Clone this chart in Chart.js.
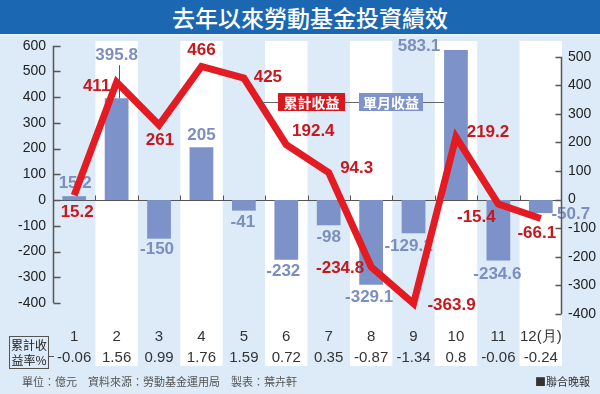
<!DOCTYPE html>
<html>
<head>
<meta charset="utf-8">
<script src="https://cdn.jsdelivr.net/npm/chart.js@4"></script>
<style>
  body { margin: 0; background: #fff; }
  #wrap { position: relative; width: 600px; height: 394px; overflow: hidden; font-family: "Noto Sans CJK TC", "Noto Sans", sans-serif; }
  #chart { position: absolute; left: 0; top: 0; }
  .title { position: absolute; left: 0; top: 0; width: 600px; height: 34px; background: #1b67b2; border-bottom: 2px solid #e8f2fb; }
  .title span { position: absolute; left: 172px; top: 2px; font-size: 23px; line-height: 30px; color: #fff; font-weight: 500; white-space: nowrap; }
  .legend { position: absolute; top: 93px; height: 18px; line-height: 18px; font-size: 14px; font-weight: 700; color: #fff; text-align: center; }
  .rateBox { position: absolute; left: 9px; top: 336px; width: 38px; height: 31px; border: 1px solid #555; font-size: 12px; line-height: 15px; color: #222; text-align: center; white-space: nowrap; }
  .rateLink { position: absolute; left: 48px; top: 356px; width: 6px; height: 1px; background: #555; }
  .foot { position: absolute; top: 374px; font-size: 11px; line-height: 14px; color: #555; white-space: nowrap; }
</style>
</head>
<body>
<div id="wrap">
  <canvas id="chart" width="600" height="394"></canvas>
  <div class="title"><span>去年以來勞動基金投資績效</span></div>
  <div class="legend" style="left:278px;width:67px;background:#d7191f;">累計收益</div>
  <div class="legend" style="left:359px;width:64px;background:#7d93c9;">單月收益</div>
  <div class="rateBox">累計收<br>益率%</div>
  <div class="rateLink"></div>
  <div class="foot" style="left:22px;">單位：億元　資料來源：勞動基金運用局　製表：葉卉軒</div>
  <div class="foot" style="right:10px;color:#333;">■聯合晚報</div>
</div>
<script>
// months on the x axis
const months = ['1', '2', '3', '4', '5', '6', '7', '8', '9', '10', '11', '12(月)'];
// 累計收益 (億元), right axis
const cumProfit = [15.2, 411, 261, 466, 425, 192.4, 94.3, -234.8, -363.9, 219.2, -15.4, -66.1];
// 單月收益 (億元), left axis
const monthProfit = [15.2, 395.8, -150, 205, -41, -232, -98, -329.1, -129.1, 583.1, -234.6, -50.7];
// 累計收益率%
const cumRate = ['-0.06', '1.56', '0.99', '1.76', '1.59', '0.72', '0.35', '-0.87', '-1.34', '0.8', '-0.06', '-0.24'];
// axis ticks
const leftTicks = [-400, -300, -200, -100, 0, 100, 200, 300, 400, 500, 600];
const rightTicks = [-400, -300, -200, -100, 0, 100, 200, 300, 400, 500];

// label offsets from their mark (px)
const cumLabelOffset = [[3, 17], [-20, 4], [1, 15], [0, -16], [24, -1], [27, -13], [28, -4], [-31, 2], [38, 2], [32, -5], [-22, 13], [-4, 15]];
const barLabelOffset = [[1, -13], [0, -43], [-2, 11], [0, -12], [-1, 12], [-3, 12], [0, 12], [-2, 13], [-5, 13], [-37, -4], [-1, 14], [30, 1]];

const RED = '#e31b23';
const RED_TEXT = '#c8171e';
const BAR = '#7d92c9';
const BAR_TEXT = '#7b8ebf';
const AXIS = '#555';
const LABEL_FONT = 'bold 17px "Liberation Sans", Arial, sans-serif';

const decor = {
  id: 'decor',
  beforeDraw(chart) {
    const { ctx, scales: { x } } = chart;
    ctx.save();
    ctx.fillStyle = '#dcebf7';
    ctx.fillRect(0, 0, chart.width, chart.height);
    // white stripes on even months
    const w = x.width / months.length;
    ctx.fillStyle = '#ffffff';
    months.forEach((m, i) => {
      if (i % 2 === 1) {
        const cx = x.getPixelForValue(i);
        ctx.fillRect(cx - w / 2, 41, w, 325);
      }
    });
    ctx.restore();
  },
  beforeDatasetsDraw(chart) {
    const { ctx, chartArea, scales: { x, y } } = chart;
    const y0 = Math.round(y.getPixelForValue(0)) + 0.5;
    const w = x.width / months.length;
    ctx.save();
    ctx.strokeStyle = AXIS;
    ctx.lineWidth = 1;
    ctx.beginPath();
    ctx.moveTo(chartArea.left, y0);
    ctx.lineTo(chartArea.right, y0);
    // small ticks at month boundaries
    for (let i = 1; i < months.length; i++) {
      const bx = Math.round(x.getPixelForValue(i) - w / 2) + 0.5;
      ctx.moveTo(bx, y0);
      ctx.lineTo(bx, y0 - 5);
    }
    ctx.stroke();
    ctx.restore();
  },
  afterDatasetDraw(chart, args) {
    if (args.index !== 1) return;
    // bar labels go under the red line
    const { ctx } = chart;
    const meta = chart.getDatasetMeta(1);
    ctx.save();
    ctx.font = LABEL_FONT;
    ctx.fillStyle = BAR_TEXT;
    ctx.textAlign = 'center';
    ctx.textBaseline = 'middle';
    meta.data.forEach((bar, i) => {
      const [dx, dy] = barLabelOffset[i];
      ctx.fillText(String(monthProfit[i]), bar.x + dx, bar.y + dy);
    });
    // leader line above month 2 bar
    const b2 = meta.data[1];
    ctx.strokeStyle = AXIS;
    ctx.lineWidth = 1;
    ctx.beginPath();
    ctx.moveTo(Math.round(b2.x + 2) + 0.5, b2.y + barLabelOffset[1][1] + 10);
    ctx.lineTo(Math.round(b2.x + 2) + 0.5, b2.y);
    ctx.stroke();
    ctx.restore();
  },
  afterDatasetsDraw(chart) {
    const { ctx, chartArea, scales: { y, y1 } } = chart;
    ctx.save();
    // legend connector line
    ctx.strokeStyle = '#666';
    ctx.lineWidth = 1;
    ctx.beginPath();
    ctx.moveTo(262, 102.5); ctx.lineTo(278, 102.5);
    ctx.moveTo(345, 102.5); ctx.lineTo(359, 102.5);
    ctx.moveTo(423, 102.5); ctx.lineTo(chart.getDatasetMeta(1).data[9].x - 12, 102.5);
    ctx.stroke();

    // axis lines with inward ticks
    ctx.strokeStyle = AXIS;
    ctx.lineWidth = 1.5;
    ctx.beginPath();
    const lx = chartArea.left + 0.5;
    ctx.moveTo(lx, y.getPixelForValue(leftTicks[leftTicks.length - 1]));
    ctx.lineTo(lx, y.getPixelForValue(leftTicks[0]));
    leftTicks.forEach(v => {
      const ty = Math.round(y.getPixelForValue(v)) + 0.5;
      ctx.moveTo(lx, ty);
      ctx.lineTo(lx + 7, ty);
    });
    const rx = chartArea.right - 0.5;
    ctx.moveTo(rx, y1.getPixelForValue(rightTicks[rightTicks.length - 1]));
    ctx.lineTo(rx, y1.getPixelForValue(rightTicks[0]));
    rightTicks.forEach(v => {
      const ty = Math.round(y1.getPixelForValue(v)) + 0.5;
      ctx.moveTo(rx, ty);
      ctx.lineTo(rx - 6, ty);
    });
    ctx.stroke();

    // red cumulative labels
    const meta = chart.getDatasetMeta(0);
    ctx.font = LABEL_FONT;
    ctx.fillStyle = RED_TEXT;
    ctx.textAlign = 'center';
    ctx.textBaseline = 'middle';
    meta.data.forEach((pt, i) => {
      const [dx, dy] = cumLabelOffset[i];
      ctx.fillText(String(cumProfit[i]), pt.x + dx, pt.y + dy);
    });
    ctx.restore();
  }
};

const tickFont = { family: '"Liberation Sans", Arial, sans-serif', size: 14 };

new Chart(document.getElementById('chart'), {
  data: {
    labels: months,
    datasets: [
      {
        type: 'line',
        label: '累計收益',
        data: cumProfit,
        yAxisID: 'y1',
        borderColor: RED,
        borderWidth: 7,
        borderJoinStyle: 'miter',
        pointRadius: 0,
        tension: 0,
        fill: false
      },
      {
        type: 'bar',
        label: '單月收益',
        data: monthProfit,
        yAxisID: 'y',
        backgroundColor: BAR,
        borderWidth: 0,
        barPercentage: 0.56,
        categoryPercentage: 1
      }
    ]
  },
  options: {
    responsive: false,
    animation: false,
    layout: { padding: { top: 40, left: 0, right: 0, bottom: 0 } },
    plugins: {
      legend: { display: false },
      tooltip: { enabled: false }
    },
    scales: {
      x: {
        type: 'category',
        offset: true,
        grid: { display: false, drawTicks: false },
        border: { display: false },
        afterFit(s) { s.height = 74; },
        ticks: {
          autoSkip: false,
          maxRotation: 0,
          padding: 6,
          color: '#333',
          font: { family: '"Liberation Sans", Arial, sans-serif', size: 15, lineHeight: 1.4 },
          callback: (v, i) => [months[i], cumRate[i]]
        }
      },
      y: {
        position: 'left',
        min: -466,
        max: 622,
        grid: { display: false, drawTicks: false },
        border: { display: false },
        afterFit(s) { s.width = 53; },
        afterBuildTicks(s) { s.ticks = leftTicks.map(v => ({ value: v })); },
        ticks: { padding: 7, color: '#222', font: tickFont }
      },
      y1: {
        position: 'right',
        min: -421,
        max: 558.4,
        grid: { display: false, drawTicks: false },
        border: { display: false },
        afterFit(s) { s.width = 38; },
        afterBuildTicks(s) { s.ticks = rightTicks.map(v => ({ value: v })); },
        ticks: { padding: 6, color: '#222', font: tickFont }
      }
    }
  },
  plugins: [decor]
});
</script>
</body>
</html>
